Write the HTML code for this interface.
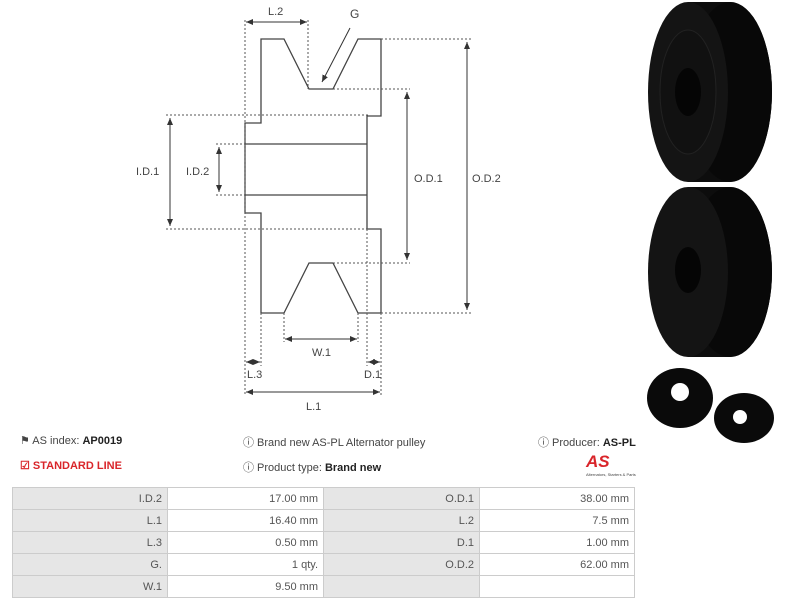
<!DOCTYPE html>
<html><head><meta charset="utf-8"><style>
body{margin:0;width:786px;height:600px;background:#fff;position:relative;overflow:hidden;font-family:"Liberation Sans",sans-serif;}
.t{position:absolute;font-size:11px;color:#444;white-space:nowrap}
table{position:absolute;left:12px;top:487px;border-collapse:collapse;font-size:11px;color:#555}
td{border:1px solid #ccc;height:21px;padding:0 5px;text-align:right}
td.g{background:#e6e6e6}
</style></head><body>
<svg width="786" height="450" style="position:absolute;left:0;top:0" font-family="Liberation Sans" font-size="11" fill="#444">
<defs><marker id="a" markerWidth="8" markerHeight="8" refX="7" refY="4" orient="auto-start-reverse" markerUnits="userSpaceOnUse"><path d="M0,1 L7,4 L0,7z" fill="#333"/></marker></defs>
<g stroke="#444" stroke-width="1.3" fill="none">
<path d="M261,39 H284 L309,89 H333 L358,39 H381 V116 H367 V229 H381 V313 H358 L333,263 H309 L284,313 H261 V213 H245 V123 H261 Z"/>
<path d="M245,144 H367 M245,195 H367"/>
</g>
<g stroke="#555" stroke-width="1" stroke-dasharray="2,2" fill="none">
<path d="M245,20 V395 M308,20 V89 M381,39 H472 M381,313 H472 M333,89 H410 M333,263 H410 M166,115 H370 M166,229 H370 M216,144 H245 M216,195 H245 M284,313 V342 M358,313 V342 M261,313 V366 M367,229 V366 M381,313 V395"/>
</g>
<g stroke="#333" stroke-width="1" marker-start="url(#a)" marker-end="url(#a)">
<path d="M246,22 H307"/><path d="M467,42 V310"/><path d="M407,92 V260"/><path d="M170,118 V226"/><path d="M219,147 V192"/><path d="M285,339 H357"/><path d="M246,362 H260"/><path d="M368,362 H380"/><path d="M246,392 H380"/>
</g>
<path d="M350,28 L322,82" stroke="#333" marker-end="url(#a)"/>
<text x="268" y="15">L.2</text><text x="350" y="18" font-size="12">G</text>
<text x="472" y="182">O.D.2</text><text x="414" y="182">O.D.1</text>
<text x="136" y="175">I.D.1</text><text x="186" y="175">I.D.2</text>
<text x="312" y="356">W.1</text><text x="247" y="378">L.3</text><text x="364" y="378">D.1</text><text x="306" y="410">L.1</text>
<g>
<path d="M688,2 H730 A42,90 0 0 1 730,182 H688 Z" fill="#0d0d0d"/>
<ellipse cx="730" cy="92" rx="42" ry="90" fill="#080808"/>
<ellipse cx="688" cy="92" rx="40" ry="90" fill="#141414"/>
<ellipse cx="688" cy="92" rx="28" ry="62" fill="#111" stroke="#222"/>
<ellipse cx="688" cy="92" rx="13" ry="24" fill="#050505"/>
<path d="M688,187 H730 A42,85 0 0 1 730,357 H688 Z" fill="#0d0d0d"/>
<ellipse cx="730" cy="272" rx="42" ry="85" fill="#080808"/>
<ellipse cx="688" cy="272" rx="40" ry="85" fill="#141414"/>
<ellipse cx="688" cy="270" rx="13" ry="23" fill="#050505"/>
<ellipse cx="680" cy="398" rx="33" ry="30" fill="#0a0a0a"/>
<ellipse cx="680" cy="392" rx="9" ry="9" fill="#fff"/>
<ellipse cx="744" cy="418" rx="30" ry="25" fill="#0a0a0a"/>
<ellipse cx="740" cy="417" rx="7" ry="7" fill="#fff"/>
</g>
</svg>
<div class="t" style="left:20px;top:434px">&#9873; AS index: <b style="color:#222">AP0019</b></div>
<div class="t" style="left:20px;top:459px;color:#d9252a;font-weight:bold">&#9745; STANDARD LINE</div>
<div class="t" style="left:243px;top:434px">&#9432; Brand new AS-PL Alternator pulley</div>
<div class="t" style="left:243px;top:459px">&#9432; Product type: <b style="color:#222">Brand new</b></div>
<div class="t" style="left:538px;top:434px">&#9432; Producer: <b style="color:#222">AS-PL</b></div>
<div class="t" style="left:586px;top:452px;color:#d9252a;font-weight:bold;font-style:italic;font-size:17px">AS</div>
<div class="t" style="left:586px;top:472px;font-size:4px">Alternators, Starters &amp; Parts</div>
<table>
<tr><td class="g" style="width:144px">I.D.2</td><td style="width:145px">17.00 mm</td><td class="g" style="width:145px">O.D.1</td><td style="width:144px">38.00 mm</td></tr>
<tr><td class="g">L.1</td><td>16.40 mm</td><td class="g">L.2</td><td>7.5 mm</td></tr>
<tr><td class="g">L.3</td><td>0.50 mm</td><td class="g">D.1</td><td>1.00 mm</td></tr>
<tr><td class="g">G.</td><td>1 qty.</td><td class="g">O.D.2</td><td>62.00 mm</td></tr>
<tr><td class="g">W.1</td><td>9.50 mm</td><td class="g"></td><td></td></tr>
</table>
</body></html>
